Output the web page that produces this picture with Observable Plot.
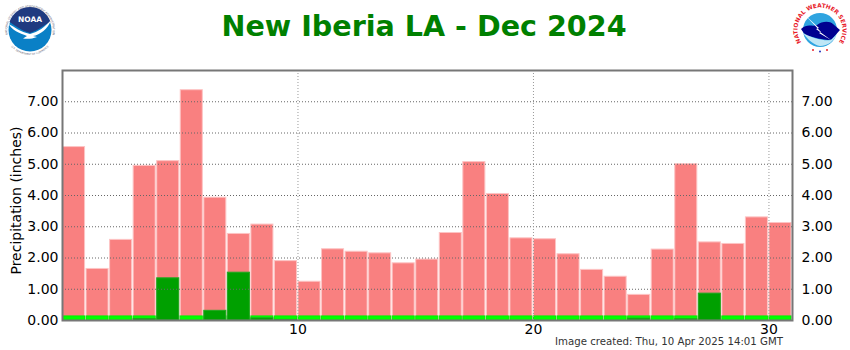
<!DOCTYPE html>
<html>
<head>
<meta charset="utf-8">
<script src="https://cdn.jsdelivr.net/npm/d3@7"></script>
<script src="https://cdn.jsdelivr.net/npm/@observablehq/plot@0.6"></script>
<style>
html,body{margin:0;padding:0;background:#fff;}
#wrap{position:relative;width:850px;height:350px;overflow:hidden;font-family:"DejaVu Sans",sans-serif;}
#title{position:absolute;left:0;top:0;width:848px;height:60px;margin:0;text-align:center;color:#008000;font:bold 28.6px/52px "DejaVu Sans",sans-serif;}
#chart{position:absolute;left:0;top:60px;}
#caption{position:absolute;left:555px;top:337px;font:10.2px/10px "DejaVu Sans",sans-serif;color:#333;white-space:nowrap;}
.logo{position:absolute;top:0;}
</style>
</head>
<body>
<div id="wrap">
<h1 id="title">New Iberia LA - Dec 2024</h1>
<svg class="logo" style="left:0" width="60" height="60" viewBox="0 0 60 60">
  <defs>
    <path id="noaaTop" d="M11.3,43.1A22.8,22.8 0 1 1 48.7,43.1"/>
    <path id="noaaBot" d="M10.800,46.100A25,25 0 0 0 49.200,46.100"/>
  </defs>
  <circle cx="30" cy="30" r="21.5" fill="#0a80c6"/>
  <path d="M9.5,22A21.5,21.5 0 0 1 50.5,22C44,25 39,30 30,33C22,31 16,26 9.500,22Z" fill="#1f3a80"/>
  <path d="M8.500,24C15,27 20,32 30,34C38,32 45,27 51,20C48,29 40,35 33,36L37,37C32,39 27,39 23,38.500L27,36C19,33 12,30 8.500,24Z" fill="#fff"/>
  <text x="30" y="22" text-anchor="middle" font-family="DejaVu Sans" font-weight="bold" font-size="7.500" fill="#fff">NOAA</text>
  <text font-family="DejaVu Sans" font-size="2.800" fill="#667"><textPath href="#noaaTop" startOffset="50%" text-anchor="middle">NATIONAL OCEANIC AND ATMOSPHERIC ADMINISTRATION</textPath></text>
  <text font-family="DejaVu Sans" font-size="2.500" fill="#667"><textPath href="#noaaBot" startOffset="50%" text-anchor="middle">U.S. DEPARTMENT OF COMMERCE</textPath></text>
</svg>
<svg class="logo" style="left:790px" width="60" height="60" viewBox="0 0 60 60">
  <defs>
    <path id="nwsTop" d="M14.400,46.200A22.500,22.500 0 1 1 45.600,46.200"/>
  </defs>
  <circle cx="30" cy="30" r="17" fill="#2fa4e0"/>
  <path d="M11,29C17,23 22,27 27,25C32,21 40,21 43,24L50,30L42,39C38,41 34,39 31,39C27,39 22,36 17,36C15,35 13,32 11,29Z" fill="#000090"/>
  <path d="M13,33C18,40 24,45 30,46C38,46 44,41 47,34L41,40C34,41 24,39 13,33Z" fill="#bfe6f5"/>
  <path d="M15,15L29,28L26,29L41,40L29,33L31,32Z" fill="#fff"/>
  <text font-family="DejaVu Sans" font-weight="bold" font-size="5.800" fill="#e8202a"><textPath href="#nwsTop" startOffset="50%" text-anchor="middle">NATIONAL WEATHER SERVICE</textPath></text>
  <circle cx="23" cy="50" r="1" fill="#e8202a"/><circle cx="30" cy="51.500" r="1" fill="#2030c0"/><circle cx="37" cy="50" r="1" fill="#e8202a"/>
</svg>
<div id="chart"></div>
<div id="caption">Image created: Thu, 10 Apr 2025 14:01 GMT</div>
</div>
<script>
const days = d3.range(1, 32);
const totals = [5.55,1.65,2.58,4.95,5.10,7.37,3.93,2.77,3.07,1.90,1.24,2.28,2.20,2.15,1.83,1.95,2.80,5.07,4.05,2.63,2.60,2.12,1.62,1.40,0.82,2.27,5.00,2.50,2.45,3.30,3.12];
const normals = [0.13,0.13,0.13,0.13,0.13,0.13,0.13,0.13,0.13,0.13,0.13,0.13,0.13,0.13,0.13,0.13,0.13,0.13,0.13,0.13,0.13,0.13,0.13,0.13,0.13,0.13,0.13,0.13,0.13,0.13,0.13];
const observed = [0,0,0,0.05,1.35,0,0.31,1.53,0.07,0.02,0,0,0,0,0,0,0,0,0,0,0,0,0,0,0.06,0,0.04,0.86,0,0,0];
const yTicks = [0,1,2,3,4,5,6,7];
const xTicks = [10,20,30];
const fmt = d3.format(".2f");
const bar = (vals, fill, stroke) => Plot.rectY(days, {
  x1: d => d - 1, x2: d => d, y1: 0, y2: d => vals[d - 1],
  fill, stroke, strokeWidth: 1, insetLeft: 0.5, insetRight: 1
});
const chart = Plot.plot({
  width: 850, height: 290,
  marginTop: 10, marginBottom: 30, marginLeft: 62, marginRight: 58,
  style: {background: "transparent", fontFamily: "DejaVu Sans, sans-serif", overflow: "visible"},
  x: {domain: [0, 31]},
  y: {domain: [0, 8]},
  marks: [
    bar(totals, "#f98080", "#fdc4c4"),
    bar(normals, "#00ff00", "#00f000"),
    bar(observed, "#00a000", "#20a820"),
    Plot.gridY(yTicks, {stroke: "#666", strokeOpacity: 1, strokeWidth: 1, strokeDasharray: "1,2"}),
    Plot.gridX(xTicks, {stroke: "#999", strokeOpacity: 1, strokeWidth: 1, strokeDasharray: "1,2"}),
    Plot.axisY(yTicks, {anchor: "left", tickSize: 0, tickPadding: 4, tickFormat: fmt, fontSize: 14, color: "#000", label: null}),
    Plot.axisY(yTicks, {anchor: "right", tickSize: 0, tickPadding: 9, tickFormat: fmt, fontSize: 14, color: "#000", label: null}),
    Plot.axisX(xTicks, {anchor: "bottom", tickSize: 0, tickPadding: 3.5, fontSize: 14, color: "#000", label: null}),
    Plot.text(["Precipitation (inches)"], {frameAnchor: "left", dx: -46, dy: 5, rotate: -90, fontSize: 14, fill: "#000", textAnchor: "middle"}),
    Plot.frame({stroke: "#777", strokeWidth: 2})
  ]
});
document.getElementById("chart").appendChild(chart);
</script>
</body>
</html>
